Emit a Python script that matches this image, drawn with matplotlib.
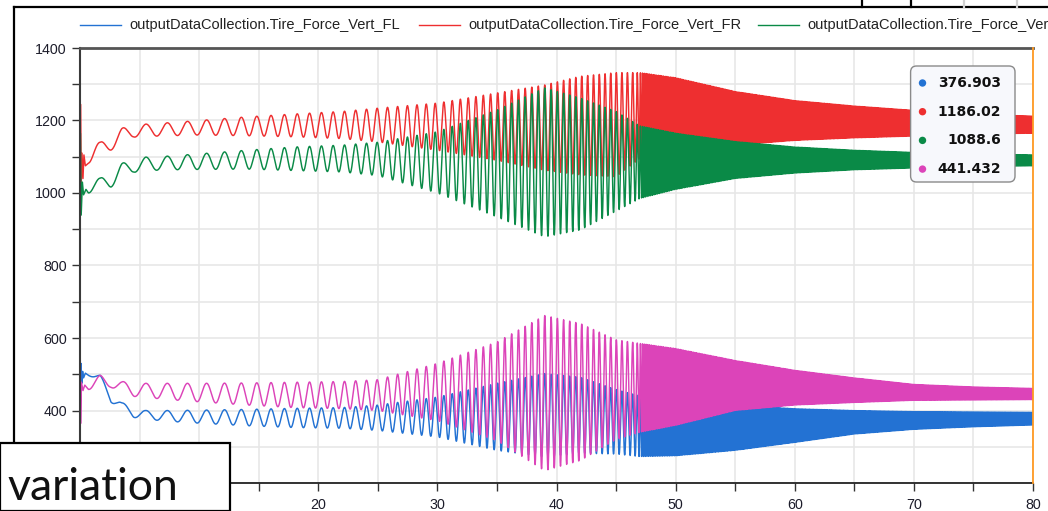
import numpy as np
import matplotlib
matplotlib.use('Agg')
import matplotlib.pyplot as plt
from matplotlib.lines import Line2D
from matplotlib.patches import Rectangle, FancyBboxPatch, Circle

plt.rcParams['font.family'] = ['Liberation Sans', 'DejaVu Sans']

W, H = 1048, 511

labels = ['outputDataCollection.Tire_Force_Vert_FL',
          'outputDataCollection.Tire_Force_Vert_FR',
          'outputDataCollection.Tire_Force_Vert_RL',
          'outputDataCollection.Tire_Force_Vert_RR']
colors = ['#2372d3', '#ee2f30', '#0a8a47', '#dc44b9']

# value of each signal under the cursor at t = 80 s
cursor_values = [376.903, 1186.02, 1088.6, 441.432]

# apparent period of the oscillation (s) along the run
period_t = [0, 4, 7, 10, 13, 16, 19, 22, 25, 28, 31, 34, 38, 42, 46, 46.6, 47.2, 55, 80]
period_s = [1.9, 1.95, 1.75, 1.6, 1.4, 1.15, 1.02, 0.95, 0.88, 0.8, 0.7, 0.61,
            0.55, 0.5, 0.46, 0.4, 0.15, 0.12, 0.1]

# start-up transient (t < 0.7 s), one list per wheel
fl_start_t = [0, 0.03, 0.08, 0.15, 0.22, 0.3, 0.45]
fl_start_v = [700, 480, 530, 475, 508, 490, 503]
fr_start_t = [0, 0.04, 0.1, 0.17, 0.25, 0.33, 0.45]
fr_start_v = [700, 1245, 1020, 1110, 1040, 1105, 1075]
rl_start_t = [0, 0.03, 0.1, 0.2, 0.3, 0.5]
rl_start_v = [698, 1165, 939, 1030, 995, 1010]
rr_start_t = [0, 0.05, 0.12, 0.25, 0.4]
rr_start_v = [695, 364, 478, 455, 470]

# upper / lower envelope of the oscillation
env_t = [0.7, 1.7, 2.6, 3.5, 4.5, 5.5, 6.5, 7.5, 10, 14, 18, 22, 25, 30,
         35, 39, 42, 45, 47, 50, 55, 60, 65, 70, 75, 80]
fl_upper = [500, 497, 455, 422, 408, 400, 400, 400, 401, 403, 406, 408, 415, 437,
            475, 502, 492, 458, 440, 430, 415, 405, 400, 397, 396, 395]
fl_lower = [497, 480, 423, 400, 381, 376, 373, 370, 365, 358, 353, 351, 345, 327,
            290, 272, 282, 280, 273, 275, 290, 312, 335, 348, 355, 360]
fr_upper = [1140, 1140, 1160, 1179, 1185, 1190, 1192, 1194, 1200, 1210, 1218, 1225, 1234, 1248,
            1276, 1298, 1322, 1332, 1332, 1318, 1280, 1255, 1240, 1228, 1218, 1212]
fr_lower = [1082, 1100, 1118, 1140, 1154, 1156, 1157, 1158, 1160, 1158, 1155, 1150, 1141, 1118,
            1090, 1063, 1050, 1045, 1095, 1115, 1132, 1145, 1152, 1157, 1162, 1165]
rl_upper = [1040, 1041, 1060, 1082, 1090, 1099, 1100, 1102, 1108, 1118, 1127, 1132, 1140, 1169,
            1229, 1290, 1262, 1225, 1185, 1165, 1142, 1127, 1118, 1112, 1108, 1105]
rl_lower = [1000, 1005, 1016, 1040, 1057, 1060, 1063, 1064, 1065, 1066, 1062, 1058, 1048, 1000,
            934, 879, 898, 950, 985, 1010, 1040, 1055, 1064, 1069, 1073, 1075]
rr_upper = [490, 497, 488, 480, 477, 475, 475, 475, 475, 476, 478, 480, 485, 530,
            589, 662, 640, 595, 585, 571, 538, 511, 490, 472, 465, 461]
rr_lower = [458, 460, 464, 450, 439, 436, 433, 430, 424, 415, 408, 405, 400, 372,
            317, 234, 262, 320, 340, 359, 400, 415, 422, 428, 429, 430]

starts = [(fl_start_t, fl_start_v), (fr_start_t, fr_start_v),
          (rl_start_t, rl_start_v), (rr_start_t, rr_start_v)]
envelopes = [(fl_upper, fl_lower), (fr_upper, fr_lower),
             (rl_upper, rl_lower), (rr_upper, rr_lower)]

# common phase, peaks line up with t = 1.7 s
dt = 0.004
t_osc = np.arange(env_t[0], 80, dt)
freq = 1.0 / np.interp(t_osc, period_t, period_s)
phase = np.cumsum(freq) * dt
phase -= np.interp(1.7, t_osc, phase)


def px(x, y):
    return x / W, 1 - y / H


fig = plt.figure(figsize=(W / 100, H / 100), dpi=100)
ax = fig.add_axes([80 / W, 1 - 483 / H, (1033 - 80) / W, (483 - 48) / H])

for (st, sv), (up, lo), c, v_end in zip(starts, envelopes, colors, cursor_values):
    u = np.interp(t_osc, env_t, up)
    l = np.interp(t_osc, env_t, lo)
    y = (u + l) / 2 + (u - l) / 2 * np.cos(2 * np.pi * phase)
    t = np.concatenate([st, t_osc, [80]])
    y = np.concatenate([sv, y, [v_end]])
    ax.plot(t, y, color=c, lw=1.05)

xt = np.arange(0, 81, 10)
yt = np.arange(200, 1401, 200)
ax.set_xlim(0, 80)
ax.set_ylim(200, 1400)
ax.set_xticks(xt)
ax.set_xticks(np.arange(0, 81, 5), minor=True)
ax.set_yticks(yt)
ax.set_yticks(np.arange(200, 1401, 100), minor=True)
# the caption box sits over the first tick labels
ax.set_xticklabels([str(v) if v >= 20 else '' for v in xt])
ax.set_yticklabels([str(v) if v > 200 else '' for v in yt])
ax.grid(which='both', color='#e6e6e6', lw=1.1)
ax.set_axisbelow(True)
ax.tick_params(which='both', direction='out', length=6, width=1, color='#333333',
               labelsize=10.3, labelcolor='#1c1c2a')
ax.tick_params(axis='y', pad=3.5)
ax.tick_params(axis='x', pad=5)
ax.spines['right'].set_visible(False)
ax.spines['top'].set_color('#555555')
ax.spines['top'].set_linewidth(2)
ax.spines['left'].set_color('#3a3a3a')
ax.spines['left'].set_linewidth(1.5)
ax.spines['bottom'].set_color('#222222')
ax.spines['bottom'].set_linewidth(1.3)

# cursor
ax.axvline(80, color='#ff9a22', lw=1.3, clip_on=False, zorder=5)

# legend row above the plot, entries past the window edge are not shown
for i, (lab, c) in enumerate(zip(labels, colors)):
    x = 80 + i * 339
    if x >= W:
        continue
    (x0, y0), (x1, _) = px(x, 25), px(x + 41, 25)
    fig.add_artist(Line2D([x0, x1], [y0, y0], color=c, lw=1.0))
    fig.text(px(x + 49, 25)[0], y0, lab, fontsize=10.5, color='#222222', va='center')

# window frame
for xs, ys, col in [([14, 14], [7, 511], 'black'), ([14, 1048], [7, 7], 'black'),
                    ([862, 862], [0, 7], 'black'), ([911, 911], [0, 7], 'black'),
                    ([964, 964], [0, 7], '#d0d0d0'), ([1017, 1017], [0, 7], '#d0d0d0')]:
    p0, p1 = px(xs[0], ys[0]), px(xs[1], ys[1])
    fig.add_artist(Line2D([p0[0], p1[0]], [p0[1], p1[1]], color=col, lw=1.6))

# value box at the cursor
box = FancyBboxPatch((9.106, (H - 182) / 100), 1.044, 1.16,
                     boxstyle='round,pad=0,rounding_size=0.06',
                     transform=fig.dpi_scale_trans, facecolor='#f7f8fc',
                     edgecolor='#8a8a8a', lw=1.0, zorder=10)
fig.add_artist(box)
for row, (c, v) in enumerate(zip(colors, cursor_values)):
    yy = (H - (83 + row * 28.7)) / 100
    fig.add_artist(Circle((9.225, yy), 0.037, transform=fig.dpi_scale_trans,
                          facecolor=c, edgecolor='none', zorder=11))
    fig.text(10.01 / (W / 100), yy / (H / 100), '{:g}'.format(v), family='DejaVu Sans',
             fontweight='bold', fontsize=10, ha='right', va='center', color='#111111',
             zorder=12)

# caption box, lower left
fig.add_artist(Rectangle((0, 0), 230 / W, (H - 443) / H, transform=fig.transFigure,
                         facecolor='white', edgecolor='black', lw=1.6, zorder=20))
fig.text(7 / W, 11 / H, 'variation', family='Lato', fontsize=32, va='baseline',
         color='#111111', zorder=21)

fig.savefig('out.png', dpi=100)
